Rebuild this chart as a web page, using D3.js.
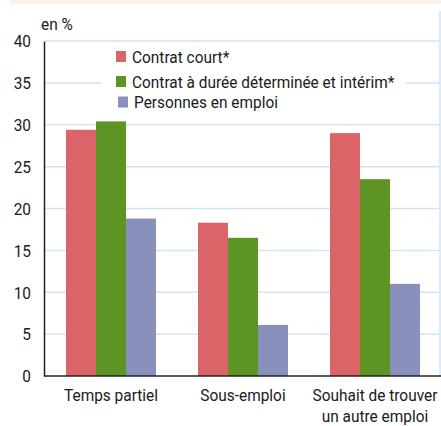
<!DOCTYPE html>
<html><head><meta charset="utf-8">
<script src="https://cdn.jsdelivr.net/npm/d3@7/dist/d3.min.js"></script>
<style>body{margin:0;background:#fff}svg{display:block}text{font-family:Roboto,"Liberation Sans",sans-serif;fill:#1a1a1a}</style>
</head><body>
<svg id="c" width="441" height="426"></svg>
<script>
const categories = ["Temps partiel", "Sous-emploi", "Souhait de trouver\nun autre emploi"];
const series = ["Contrat court*", "Contrat à durée déterminée et intérim*", "Personnes en emploi"];
const contratCourt = [29.4, 18.3, 29.0];
const cddInterim = [30.4, 16.5, 23.5];
const personnesEmploi = [18.8, 6.1, 11.0];
const yTicks = [0, 5, 10, 15, 20, 25, 30, 35, 40];
const colors = ["#db6468", "#5e9423", "#8791bb"];
const values = [contratCourt, cddInterim, personnesEmploi];

const svg = d3.select("#c");
const m = {l: 45, r: 0, t: 41, b: 50};
const W = 441, H = 426;
const FS = 16.5;
const NARROW = 0.935;
const x0 = d3.scaleBand().domain(categories).range([m.l, W]).paddingInner(0).paddingOuter(0);
const x1 = d3.scaleBand().domain(series).range([0, x0.bandwidth()]).paddingInner(0).paddingOuter((x0.bandwidth()-90)/2/ (90/3));
const y = d3.scaleLinear().domain([0, 40]).range([376, 41]);

// top peach band
svg.append("rect").attr("x", 10).attr("y", 0).attr("width", W - 10).attr("height", 3.5).attr("fill", "#fdf0e6");

// gridlines
svg.append("g").selectAll("line").data(yTicks.filter(d => d > 0)).join("line")
  .attr("x1", m.l).attr("x2", 439).attr("y1", d => y(d)).attr("y2", d => y(d))
  .attr("stroke", "#cfe5f7").attr("stroke-width", 1.5);
// right border line
svg.append("line").attr("x1", 440).attr("x2", 440).attr("y1", 11).attr("y2", 376)
  .attr("stroke", "#cfe5f7").attr("stroke-width", 1.5);

// legend background (masks gridline)
svg.append("rect").attr("x", 101).attr("y", 46).attr("width", 305).attr("height", 64).attr("fill", "#fff");

// bars
const g = svg.append("g");
categories.forEach((c, i) => {
  series.forEach((s, j) => {
    g.append("rect")
      .attr("x", x0(c) + x1(s)).attr("width", x1.bandwidth())
      .attr("y", y(values[j][i])).attr("height", y(0) - y(values[j][i]))
      .attr("fill", colors[j]);
  });
});

// y axis
const ya = svg.append("g").attr("transform", `translate(${m.l - 1},0)`)
  .call(d3.axisLeft(y).tickValues(yTicks).tickSize(0).tickPadding(13));
ya.select(".domain").attr("stroke", "#222").attr("stroke-width", 1.5);
ya.selectAll("text").attr("font-size", FS).style("font-family", 'Roboto,"Liberation Sans",sans-serif').attr("fill", "#1a1a1a").attr("dy", "0.35em");

// x axis
const xa = svg.append("g").attr("transform", `translate(0,${y(0)})`)
  .call(d3.axisBottom(x0).tickSize(0).tickFormat(""));
xa.select(".domain").attr("stroke", "#222").attr("stroke-width", 1.5).attr("d", `M${m.l - 1},0H${W}`);
categories.forEach(c => {
  const lines = c.split("\n");
  lines.forEach((l, k) => svg.append("text").attr("class", "nar").attr("text-anchor", "middle").attr("font-size", FS)
    .attr("x", x0(c) + x0.bandwidth() / 2).attr("y", 401 + k * 21).text(l));
});

// unit label
svg.append("text").attr("class", "nar").attr("x", 41).attr("y", 30).attr("font-size", FS).text("en %");

// legend
const leg = [{x: 116, y: 51, tx: 132, ty: 63}, {x: 116, y: 76, tx: 132, ty: 88}, {x: 118, y: 96.5, tx: 134, ty: 108}];
series.forEach((s, j) => {
  svg.append("rect").attr("x", leg[j].x).attr("y", leg[j].y).attr("width", 10).attr("height", 11).attr("fill", colors[j]);
  svg.append("text").attr("class", "nar").attr("x", leg[j].tx).attr("y", leg[j].ty).attr("font-size", FS).text(s);
});

// condense text to mimic a narrow face
svg.selectAll("text").each(function() {
  const w = this.getComputedTextLength();
  if (w > 0) d3.select(this).attr("textLength", w * NARROW).attr("lengthAdjust", "spacingAndGlyphs");
});
</script>
</body></html>
